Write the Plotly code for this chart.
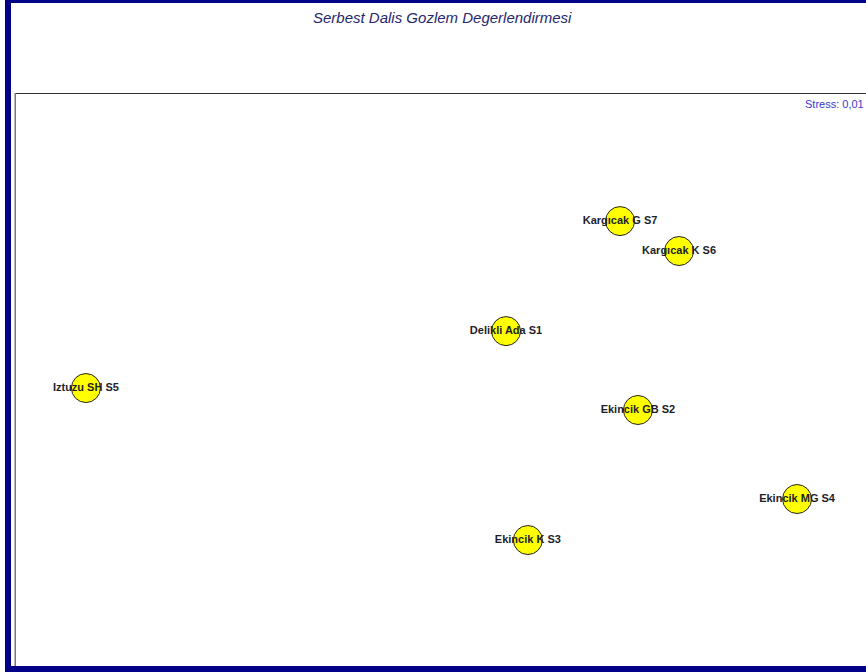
import plotly.graph_objects as go

W, H = 866, 672

# MDS configuration (arbitrary units)
sites = ["Delikli Ada S1", "Ekincik GB S2", "Ekincik K S3", "Ekincik MG S4",
         "Iztuzu SH S5", "Kargıcak K S6", "Kargıcak G S7"]
dim1 = [0.231, 0.696, 0.308, 1.257, -1.250, 0.841, 0.633]
dim2 = [0.213, -0.114, -0.653, -0.483, -0.023, 0.545, 0.669]
stress = "0,01"
title = "Serbest Dalis Gozlem Degerlendirmesi"

x_range = [-1.5, 1.5]
y_range = [-1.2, 1.2]

fig = go.Figure()
fig.add_trace(go.Scatter(
    x=dim1, y=dim2, mode="markers+text", text=sites,
    textposition="middle center",
    marker=dict(size=29, color="#ffff00", line=dict(color="#222222", width=1)),
    textfont=dict(family="Liberation Sans, Arial, sans-serif", size=11, color="#1e1e2a", weight="bold"),
    hoverinfo="text", showlegend=False, cliponaxis=False,
))

px_l, px_t = 15, 93
fig.update_layout(
    width=W, height=H,
    margin=dict(l=0, r=0, t=0, b=0),
    paper_bgcolor="white", plot_bgcolor="white",
    xaxis=dict(domain=[px_l / W, 1], range=x_range, showgrid=False, zeroline=False,
               showticklabels=False, showline=False, fixedrange=True),
    yaxis=dict(domain=[0, (H - px_t) / H], range=y_range, showgrid=False, zeroline=False,
               showticklabels=False, showline=False, fixedrange=True),
    annotations=[
        dict(text=title, x=443 / W, y=1 - 17 / H, xref="paper", yref="paper",
             xanchor="center", yanchor="middle", showarrow=False,
             font=dict(family="Liberation Sans, Arial, sans-serif", size=15, color="#26266e",
                       style="italic")),
        dict(text="Stress: " + stress, x=866 / W, y=1 - 104 / H, xref="paper", yref="paper",
             xanchor="right", yanchor="middle", showarrow=False,
             font=dict(family="Liberation Sans, Arial, sans-serif", size=11, color="#3a3acc")),
    ],
    shapes=[
        # plot frame
        dict(type="line", xref="paper", yref="paper", x0=px_l / W, x1=1,
             y0=1 - (px_t + 0.5) / H, y1=1 - (px_t + 0.5) / H, line=dict(color="#333333", width=1)),
        dict(type="line", xref="paper", yref="paper", x0=(px_l + 0.5) / W, x1=(px_l + 0.5) / W,
             y0=0, y1=1 - px_t / H, line=dict(color="#777777", width=1)),
        dict(type="line", xref="paper", yref="paper", x0=(px_l - 0.5) / W, x1=(px_l - 0.5) / W,
             y0=0, y1=1 - px_t / H, line=dict(color="#bbbbbb", width=1)),
        # navy outer border
        dict(type="rect", xref="paper", yref="paper", x0=5 / W, x1=11 / W, y0=0, y1=1,
             fillcolor="#000088", line=dict(width=0)),
        dict(type="rect", xref="paper", yref="paper", x0=5 / W, x1=1, y0=1 - 3 / H, y1=1,
             fillcolor="#000088", line=dict(width=0)),
        dict(type="rect", xref="paper", yref="paper", x0=5 / W, x1=1, y0=0, y1=6 / H,
             fillcolor="#000088", line=dict(width=0)),
    ],
)

fig.write_html("out.html", config=dict(displayModeBar=False))
